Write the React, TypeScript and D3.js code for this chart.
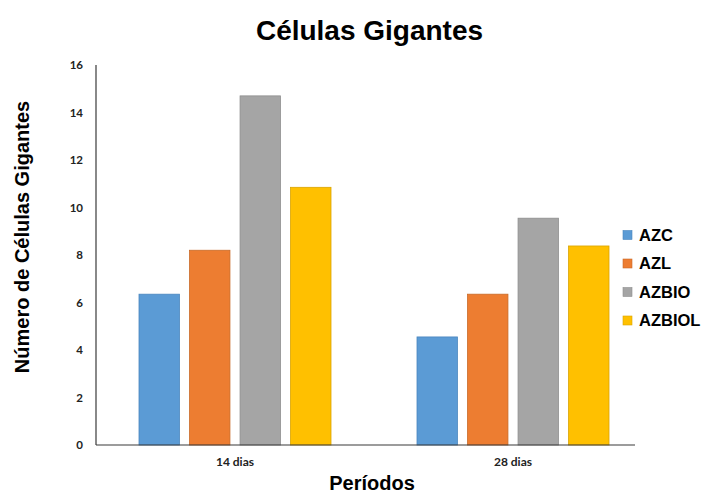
import React from "react";
import * as d3 from "d3";

const periods = ["14 dias", "28 dias"];
const seriesNames = ["AZC", "AZL", "AZBIO", "AZBIOL"];
const AZC = [6.35, 4.55];
const AZL = [8.2, 6.35];
const AZBIO = [14.7, 9.55];
const AZBIOL = [10.85, 8.38];
const seriesColors = ["#5B9BD5", "#ED7D31", "#A5A5A5", "#FFC000"];
const seriesStrokes = ["#4A86BE", "#C96A28", "#8E8E8E", "#D9A400"];
const yTicks = [0, 2, 4, 6, 8, 10, 12, 14, 16];

const W = 711;
const H = 494;

export default function App() {
  const values = [AZC, AZL, AZBIO, AZBIOL];
  const y = d3.scaleLinear().domain([0, 16]).range([445, 65]);
  const x0 = d3.scaleBand<string>().domain(periods).range([96, 652]).padding(0);
  const x1 = d3
    .scaleBand<string>()
    .domain(seriesNames)
    .range([43, x0.bandwidth() - 43])
    .paddingInner(0.2)
    .paddingOuter(0);

  const sans = "'Liberation Sans', Arial, sans-serif";
  const tickFont = "Lato, 'Open Sans', sans-serif";

  return (
    <svg
      width={W}
      height={H}
      viewBox={`0 0 ${W} ${H}`}
      style={{ position: "absolute", left: 0, top: 0, background: "#fff" }}
    >
      <text
        x={369.5}
        y={40}
        textAnchor="middle"
        fontFamily={sans}
        fontWeight="bold"
        fontSize={28}
        fill="#000"
      >
        Células Gigantes
      </text>

      {/* bars */}
      {periods.map((p, pi) => (
        <g key={p} transform={`translate(${x0(p)},0)`}>
          {seriesNames.map((s, si) => {
            const v = values[si][pi];
            return (
              <rect
                key={s}
                x={x1(s)}
                y={y(v)}
                width={x1.bandwidth()}
                height={y(0) - y(v)}
                fill={seriesColors[si]}
                stroke={seriesStrokes[si]}
                strokeWidth={0.8}
              />
            );
          })}
        </g>
      ))}

      {/* axes */}
      <line x1={96} x2={96} y1={y(16)} y2={y(0)} stroke="#3a3a3a" strokeWidth={1.2} />
      <line x1={96} x2={635} y1={y(0)} y2={y(0)} stroke="#3a3a3a" strokeWidth={1.2} />

      {yTicks.map((t) => (
        <text
          key={t}
          x={83}
          y={y(t)}
          dy="0.35em"
          textAnchor="end"
          fontFamily={tickFont}
          fontWeight="bold"
          fontSize={11.5}
          fill="#222"
        >
          {t}
        </text>
      ))}

      {periods.map((p) => (
        <text
          key={p}
          x={(x0(p) as number) + x0.bandwidth() / 2}
          y={466}
          textAnchor="middle"
          fontFamily={tickFont}
          fontWeight="bold"
          fontSize={12}
          fill="#222"
        >
          {p}
        </text>
      ))}

      <text
        x={372}
        y={490}
        textAnchor="middle"
        fontFamily={sans}
        fontWeight="bold"
        fontSize={20}
        fill="#000"
      >
        Períodos
      </text>

      <text
        transform={`translate(29,237) rotate(-90)`}
        textAnchor="middle"
        fontFamily={sans}
        fontWeight="bold"
        fontSize={20}
        fill="#000"
      >
        Número de Células Gigantes
      </text>

      {/* legend */}
      {seriesNames.map((s, i) => (
        <g key={s} transform={`translate(623,${235 + i * 28.5})`}>
          <rect x={0} y={-4.5} width={9} height={9} fill={seriesColors[i]} stroke={seriesStrokes[i]} strokeWidth={0.6} />
          <text
            x={16}
            y={0}
            dy="0.36em"
            fontFamily={sans}
            fontWeight="bold"
            fontSize={16.5}
            fill="#000"
          >
            {s}
          </text>
        </g>
      ))}
    </svg>
  );
}
